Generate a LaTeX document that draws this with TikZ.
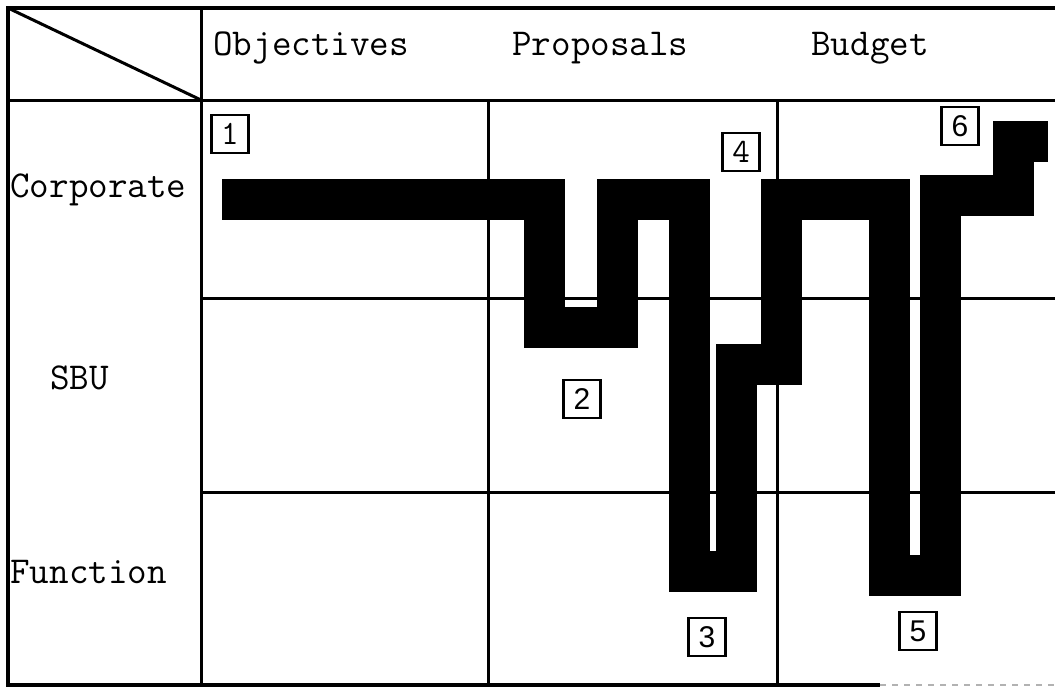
\documentclass[tikz,border=0pt]{standalone}
\usepackage{fontspec}
\setmainfont{Liberation Sans}
\usetikzlibrary{positioning}

\begin{document}
\begin{tikzpicture}[x=0.5pt, y=-0.5pt,
  every node/.style={inner sep=0pt},
  head/.style={anchor=west, font=\ttfamily\fontsize{19}{21}\selectfont},
  numbox/.style={draw, line width=1.4pt, minimum width=18.5pt, minimum height=19pt,
    font=\fontsize{15}{16}\selectfont},
  grid/.style={line width=1.5pt},
  route/.style={line width=20.5pt, line join=miter}]
\useasboundingbox (0,0) rectangle (1055,686);
% table frame
\draw[grid, line width=2pt] (1055,8) -- (8,8) -- (8,685) -- (880,685);
\draw[gray!60, dashed, line width=0.8pt] (880,685) -- (1055,685);
\draw[grid] (8,100) -- (1055,100);
\draw[grid] (201,298) -- (1055,298);
\draw[grid] (201,492) -- (1055,492);
\draw[grid] (201,8) -- (201,685);
\draw[grid] (488,100) -- (488,685);
\draw[grid] (777,100) -- (777,685);
\draw[grid] (8,8) -- (201,100);
% headings
\node[head] (obj) at (213,48) {Objectives};
\node[head] (prop) at (512,48) {Proposals};
\node[head] (budg) at (811,48) {Budget};
\node[head] (corp) at (10,190) {Corporate};
\node[head] (sbu) at (50,378) {SBU};
\node[head] (func) at (10,572) {Function};
% the planning route
\draw[route] (222,199) -- (544,199) -- (544,327) -- (617,327) -- (617,199)
  -- (689,199) -- (689,571) -- (736,571) -- (736,364) -- (781,364) -- (781,199)
  -- (889,199) -- (889,575) -- (940,575) -- (940,195) -- (1013,195)
  -- (1013,141) -- (1048,141);
% step numbers
\node[numbox, font=\ttfamily\fontsize{17}{18}\selectfont] (s1) at (230,134) {1};
\node[numbox] (s2) at (582,399) {2};
\node[numbox] (s3) at (707,637) {3};
\node[numbox, font=\ttfamily\fontsize{17}{18}\selectfont] (s4) at (741,152) {4};
\node[numbox] (s5) at (918,631) {5};
\node[numbox] (s6) at (960,126) {6};
\end{tikzpicture}
\end{document}
